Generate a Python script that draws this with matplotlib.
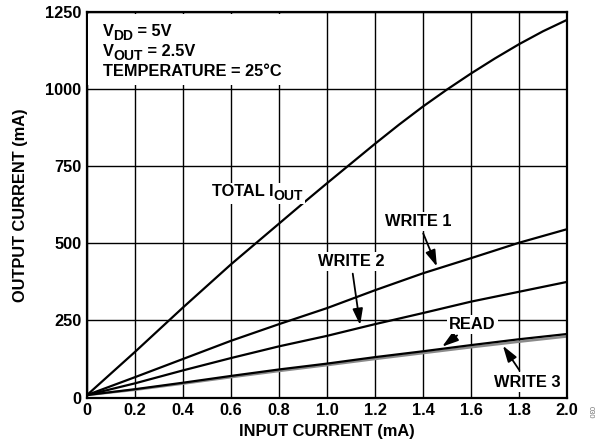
import numpy as np
import matplotlib
matplotlib.use("Agg")
import matplotlib.pyplot as plt
from matplotlib.transforms import IdentityTransform, Bbox
from matplotlib.patches import Rectangle

plt.rcParams['font.family'] = ['Liberation Sans', 'DejaVu Sans']
plt.rcParams['font.weight'] = 'bold'

# input current (mA)
x = [0.0, 0.2, 0.4, 0.6, 0.8, 1.0, 1.2, 1.4, 1.6, 1.8, 2.0]
x_total = [0.0, 0.2, 0.4, 0.6, 0.8, 0.9, 1.0, 1.1, 1.2, 1.3, 1.4, 1.5, 1.6, 1.7, 1.8, 1.9, 2.0]
# output currents (mA)
total = [8, 148, 292, 432, 564, 630, 695, 759, 823, 885, 944, 999, 1051, 1100, 1146, 1188, 1225]
write1 = [8, 66, 125, 184, 238, 290, 348, 403, 452, 502, 546]
write2 = [8, 46, 88, 128, 166, 200, 238, 274, 311, 343, 375]
read = [8, 27, 48, 70, 91, 110, 131, 150, 170, 189, 206]
write3 = [8, 25, 45, 66, 86, 105, 125, 144, 163, 181, 198]

xticks = [0, 0.2, 0.4, 0.6, 0.8, 1.0, 1.2, 1.4, 1.6, 1.8, 2.0]
xticklabels = ['0', '0.2', '0.4', '0.6', '0.8', '1.0', '1.2', '1.4', '1.6', '1.8', '2.0']
yticks = [0, 250, 500, 750, 1000, 1250]

fs = 11.8

fig = plt.figure(figsize=(5.97, 4.46), dpi=100)
ax = fig.add_axes([0.1457, 0.1087, 0.804, 0.864])

ax.set_xlim(0, 2.0)
ax.set_ylim(0, 1250)
ax.set_xticks(xticks)
ax.set_xticklabels(xticklabels)
ax.set_yticks(yticks)
ax.grid(True, color='black', linewidth=1.0)
ax.tick_params(length=0, labelsize=fs, pad=4)
for s in ax.spines.values():
    s.set_linewidth(1.6)

ax.plot(x, write3, color='#8a8a8a', linewidth=1.8)
ax.plot(x, read, color='black', linewidth=1.6)
ax.plot(x, write2, color='black', linewidth=1.6)
ax.plot(x, write1, color='black', linewidth=1.6)
ax.plot(x_total, total, color='black', linewidth=1.6)

ax.set_xlabel('INPUT CURRENT (mA)', fontsize=fs, fontweight='bold', labelpad=4)
ax.set_ylabel('OUTPUT CURRENT (mA)', fontsize=fs, fontweight='bold', labelpad=12)

renderer = fig.canvas.get_renderer()


def sub_text(x0, y0, parts, backing=False):
    # parts: list of (text, is_subscript); drawn side by side on one baseline
    px, py = ax.transData.transform((x0, y0))
    boxes = []
    for txt, is_sub in parts:
        size = fs * 0.85 if is_sub else fs
        yy = py - 4 if is_sub else py
        t = ax.text(px, yy, txt, transform=IdentityTransform(), fontsize=size,
                    fontweight='bold', ha='left', va='baseline', zorder=5)
        bb = t.get_window_extent(renderer)
        boxes.append(bb)
        px = bb.x1
    if backing:
        u = Bbox.union(boxes)
        ax.add_patch(Rectangle((u.x0 - 2, u.y0 - 1), u.width + 4, u.height + 2,
                               transform=IdentityTransform(), facecolor='white',
                               edgecolor='none', zorder=4))


# white panel behind the conditions text
ax.add_patch(Rectangle((0.005, 1015), 0.81, 228, facecolor='white', edgecolor='none', zorder=3))
sub_text(0.065, 1172, [('V', False), ('DD', True), (' = 5V', False)])
sub_text(0.065, 1107, [('V', False), ('OUT', True), (' = 2.5V', False)])
sub_text(0.065, 1044, [('TEMPERATURE = 25°C', False)])

sub_text(0.52, 653, [('TOTAL I', False), ('OUT', True)], backing=True)

box = dict(facecolor='white', edgecolor='none', pad=1.5)
arrow = dict(arrowstyle='-|>,head_length=0.7,head_width=0.22', color='black',
             linewidth=1.3, mutation_scale=14, shrinkA=2, shrinkB=0)
ax.annotate('WRITE 1', xy=(1.458, 425), xytext=(1.38, 572), fontsize=fs,
            fontweight='bold', ha='center', va='center', bbox=box, arrowprops=arrow)
ax.annotate('WRITE 2', xy=(1.138, 235), xytext=(1.10, 442), fontsize=fs,
            fontweight='bold', ha='center', va='center', bbox=box, arrowprops=arrow)
ax.annotate('READ', xy=(1.48, 165), xytext=(1.605, 238), fontsize=fs,
            fontweight='bold', ha='center', va='center', bbox=box, arrowprops=arrow)
ax.annotate('WRITE 3', xy=(1.733, 168), xytext=(1.835, 50), fontsize=fs,
            fontweight='bold', ha='center', va='center', bbox=box, arrowprops=arrow)

fig.text(0.988, 0.075, '030', fontsize=5.5, color='#777777', rotation=-90,
         ha='center', va='center', fontweight='normal')

fig.savefig('out.png', dpi=100)
